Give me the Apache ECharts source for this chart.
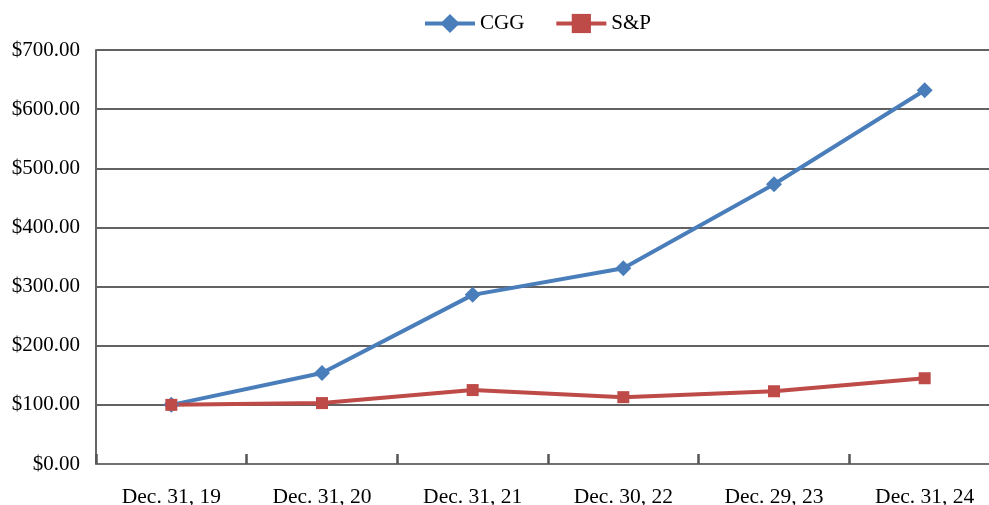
<!DOCTYPE html>
<html>
<head>
<meta charset="utf-8">
<script src="https://cdn.jsdelivr.net/npm/echarts@6/dist/echarts.min.js"></script>
<style>
html, body { margin: 0; padding: 0; background: #fff; }
#chart { width: 989px; height: 505px; }
</style>
</head>
<body>
<div id="chart"></div>
<script>
// 数据
var categories = ['Dec. 31, 19', 'Dec. 31, 20', 'Dec. 31, 21', 'Dec. 30, 22', 'Dec. 29, 23', 'Dec. 31, 24'];
var cggValues = [100, 154, 286, 331, 473, 632];
var spValues = [100, 103, 125, 113, 123, 145];

var myChart = echarts.init(document.getElementById('chart'));
myChart.setOption({
    animation: false,
    textStyle: { fontFamily: 'Liberation Serif' },
    legend: {
        top: 8,
        left: 418,
        itemWidth: 50,
        itemHeight: 24,
        itemGap: 30,
        lineStyle: { width: 4 },
        textStyle: { fontFamily: 'Liberation Serif', fontSize: 21, color: '#000' },
        data: ['CGG', 'S&P']
    },
    grid: {
        left: 96,
        top: 50,
        width: 904,
        height: 414,
        outerBoundsMode: 'none',
        containLabel: false
    },
    xAxis: {
        type: 'category',
        data: categories,
        boundaryGap: true,
        axisLine: { lineStyle: { color: '#777', width: 1.5 } },
        axisTick: { show: true, inside: true, length: 10, lineStyle: { color: '#555', width: 2.5 } },
        axisLabel: { fontFamily: 'Liberation Serif', fontSize: 21.5, color: '#000', margin: 22 }
    },
    yAxis: {
        type: 'value',
        min: 0,
        max: 700,
        interval: 100,
        axisLine: { show: true, lineStyle: { color: '#666', width: 2 } },
        axisTick: { show: false },
        splitLine: { lineStyle: { color: '#626262', width: 2 } },
        axisLabel: {
            fontFamily: 'Liberation Serif', fontSize: 21, color: '#000', margin: 16,
            formatter: function (v) { return '$' + v.toFixed(2); }
        }
    },
    series: [
        {
            name: 'CGG',
            type: 'line',
            data: cggValues,
            symbol: 'diamond',
            symbolSize: 16,
            itemStyle: { color: '#4A7EBB' },
            lineStyle: { color: '#4A7EBB', width: 4 }
        },
        {
            name: 'S&P',
            type: 'line',
            data: spValues,
            symbol: 'rect',
            symbolSize: 12,
            itemStyle: { color: '#BE4B48' },
            lineStyle: { color: '#BE4B48', width: 4 }
        }
    ]
});
</script>
</body>
</html>
